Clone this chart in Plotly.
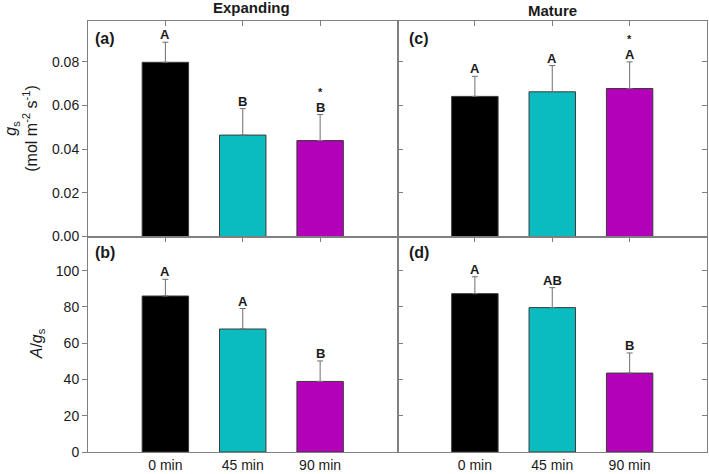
import plotly.graph_objects as go
from plotly.subplots import make_subplots

categories = ["0 min", "45 min", "90 min"]
bar_colors = ["#000000", "#0ABCBF", "#B300B9"]

gs_expanding = [0.0797, 0.0464, 0.0439]
gs_expanding_err = [0.0092, 0.0121, 0.0119]
gs_mature = [0.0641, 0.0662, 0.0677]
gs_mature_err = [0.0092, 0.0120, 0.0122]

ags_expanding = [86.0, 67.8, 38.9]
ags_expanding_err = [9.2, 11.3, 11.3]
ags_mature = [87.3, 79.6, 43.5]
ags_mature_err = [9.3, 11.0, 11.1]

letters_a = ["A", "B", "B"]
letters_b = ["A", "A", "B"]
letters_c = ["A", "A", "A"]
letters_d = ["A", "AB", "B"]
stars_a = ["", "", "*"]
stars_c = ["", "", "*"]

gs_ticks = [0.0, 0.02, 0.04, 0.06, 0.08]
ags_ticks = [0, 20, 40, 60, 80, 100]
gs_range = [0, 0.0986]
ags_range = [0, 118.8]

FONT = "Liberation Sans, Arial, sans-serif"
AXCOL = "#808080"
TXT = "#1a1a1a"

fig = make_subplots(rows=2, cols=2, shared_xaxes=True, shared_yaxes=True,
                    horizontal_spacing=0, vertical_spacing=0)

panels = [
    (1, 1, gs_expanding, gs_expanding_err, letters_a, stars_a, "(a)"),
    (1, 2, gs_mature, gs_mature_err, letters_c, stars_c, "(c)"),
    (2, 1, ags_expanding, ags_expanding_err, letters_b, None, "(b)"),
    (2, 2, ags_mature, ags_mature_err, letters_d, None, "(d)"),
]

axis_ids = {(1, 1): ("x", "y"), (1, 2): ("x2", "y2"), (2, 1): ("x3", "y3"), (2, 2): ("x4", "y4")}

for r, c, vals, errs, lets, stars, lab in panels:
    fig.add_trace(go.Bar(
        x=categories, y=vals, width=0.6,
        marker=dict(color=bar_colors, line=dict(color="#3a3a3a", width=1)),
        error_y=dict(type="data", array=errs, arrayminus=[0, 0, 0], symmetric=False,
                     color="#6e6e6e", thickness=1, width=3),
        showlegend=False, hoverinfo="skip",
    ), row=r, col=c)
    xr, yr = axis_ids[(r, c)]
    for i, cat in enumerate(categories):
        top = vals[i] + errs[i]
        fig.add_annotation(x=cat, y=top, xref=xr, yref=yr, text="<b>%s</b>" % lets[i],
                           showarrow=False, yanchor="bottom", yshift=-2,
                           font=dict(family=FONT, size=13, color=TXT))
        if stars and stars[i]:
            fig.add_annotation(x=cat, y=top, xref=xr, yref=yr, text="<b>%s</b>" % stars[i],
                               showarrow=False, yanchor="bottom", yshift=15,
                               font=dict(family=FONT, size=11, color=TXT))
    fig.add_annotation(x=0, y=1, xref=xr + " domain", yref=yr + " domain", text="<b>%s</b>" % lab,
                       showarrow=False, xanchor="left", yanchor="top",
                       xshift=5 if c == 1 else 9, yshift=-7 if r == 1 else -5,
                       font=dict(family=FONT, size=16, color=TXT))

# Column titles
fig.add_annotation(x="45 min", y=1, xref="x", yref="paper", text="<b>Expanding</b>",
                   showarrow=False, yanchor="middle", yshift=14, xshift=9,
                   font=dict(family=FONT, size=15, color=TXT))
fig.add_annotation(x="45 min", y=1, xref="x2", yref="paper", text="<b>Mature</b>",
                   showarrow=False, yanchor="middle", yshift=11,
                   font=dict(family=FONT, size=15, color=TXT))

# Y-axis titles
fig.add_annotation(x=0, y=0.75, xref="paper", yref="paper",
                   text="<i>g</i><sub>s</sub><br>(mol m<sup>-2</sup> s<sup>-1</sup>)",
                   showarrow=False, textangle=-90, xanchor="center", yanchor="middle", xshift=-67,
                   font=dict(family=FONT, size=16, color=TXT))
fig.add_annotation(x=0, y=0.25, xref="paper", yref="paper",
                   text="<i>A</i>/<i>g</i><sub>s</sub>",
                   showarrow=False, textangle=-90, xanchor="center", yanchor="middle", xshift=-51,
                   font=dict(family=FONT, size=16, color=TXT))

xcommon = dict(range=[-1, 3], showline=True, linecolor=AXCOL, linewidth=1, mirror="ticks",
               ticks="inside", ticklen=5, tickcolor=AXCOL, showgrid=False, zeroline=False,
               layer="below traces", tickfont=dict(family=FONT, size=14, color=TXT))
for ax in ["xaxis", "xaxis2", "xaxis3", "xaxis4"]:
    fig.layout[ax].update(**xcommon)
fig.layout.xaxis.domain = [0, 0.5]
fig.layout.xaxis3.domain = [0, 0.5]
fig.layout.xaxis2.domain = [0.5, 1]
fig.layout.xaxis4.domain = [0.5, 1]

ycommon = dict(showline=True, linecolor=AXCOL, linewidth=1, ticklen=5, tickcolor=AXCOL,
               showgrid=False, zeroline=False, tickfont=dict(family=FONT, size=14, color=TXT))
fig.layout.yaxis.update(range=gs_range, tickvals=gs_ticks, tickformat=".2f", ticks="outside",
                        mirror=True, domain=[0.5, 1], **ycommon)
fig.layout.yaxis2.update(range=gs_range, tickvals=gs_ticks, ticks="inside", mirror="ticks",
                         showticklabels=False, domain=[0.5, 1], **ycommon)
fig.layout.yaxis3.update(range=ags_range, tickvals=ags_ticks, ticks="outside",
                         mirror=True, domain=[0, 0.5], **ycommon)
fig.layout.yaxis4.update(range=ags_range, tickvals=ags_ticks, ticks="inside", mirror="ticks",
                         showticklabels=False, domain=[0, 0.5], **ycommon)

# Inward ticks on the right edge of the left-column panels
fig.update_layout(
    yaxis5=dict(overlaying="y", anchor="x", side="right", range=gs_range, tickvals=gs_ticks,
                ticks="inside", ticklen=5, tickcolor=AXCOL, showticklabels=False,
                showline=False, showgrid=False, zeroline=False),
    yaxis6=dict(overlaying="y3", anchor="x3", side="right", range=ags_range, tickvals=ags_ticks,
                ticks="inside", ticklen=5, tickcolor=AXCOL, showticklabels=False,
                showline=False, showgrid=False, zeroline=False),
)

fig.update_layout(
    width=709, height=474,
    margin=dict(l=88, r=1, t=21, b=19),
    paper_bgcolor="white", plot_bgcolor="white",
    bargap=0.4, showlegend=False,
    font=dict(family=FONT, color=TXT),
)

fig.write_html("out.html", config={"displayModeBar": False},
               post_script="document.body.style.margin='0';document.body.style.overflow='hidden';")
